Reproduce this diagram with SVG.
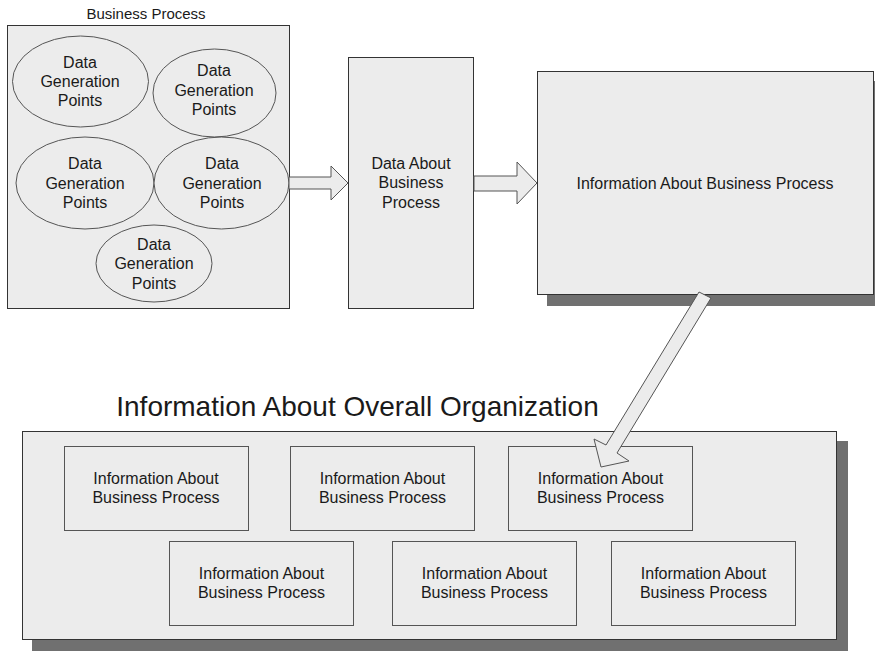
<svg xmlns="http://www.w3.org/2000/svg" width="875" height="651" viewBox="0 0 875 651">
<style>
  text { font-family: "Liberation Sans", Arial, sans-serif; fill: #1a1a1a; text-anchor: middle; }
  .t16 { font-size: 16px; }
  .box { fill: #ececec; stroke: #333; stroke-width: 1; }
  .inner { fill: #ececec; stroke: #555; stroke-width: 1; }
  .ell { fill: #ececec; stroke: #555; stroke-width: 1; }
  .shadow { fill: #707070; }
  .arrow { fill: #ececec; stroke: #555; stroke-width: 1; stroke-linejoin: miter; }
</style>
<rect width="875" height="651" fill="#ffffff"/>

<g id="business-process">
  <text x="146" y="19" style="font-size:15px">Business Process</text>
  <rect class="box" x="7.5" y="25.5" width="282" height="283"/>
  <g id="dgp1">
    <ellipse class="ell" cx="80.5" cy="81.5" rx="68" ry="45.5"/>
    <text class="t16" x="80" y="68">Data</text>
    <text class="t16" x="80" y="87">Generation</text>
    <text class="t16" x="80" y="106">Points</text>
  </g>
  <g id="dgp2">
    <ellipse class="ell" cx="214.5" cy="93" rx="61.5" ry="44"/>
    <text class="t16" x="214" y="76">Data</text>
    <text class="t16" x="214" y="95.5">Generation</text>
    <text class="t16" x="214" y="115">Points</text>
  </g>
  <g id="dgp3">
    <ellipse class="ell" cx="85" cy="183" rx="69" ry="46"/>
    <text class="t16" x="85" y="169">Data</text>
    <text class="t16" x="85" y="188.5">Generation</text>
    <text class="t16" x="85" y="208">Points</text>
  </g>
  <g id="dgp4">
    <ellipse class="ell" cx="221.5" cy="183" rx="67.5" ry="46"/>
    <text class="t16" x="222" y="169">Data</text>
    <text class="t16" x="222" y="188.5">Generation</text>
    <text class="t16" x="222" y="208">Points</text>
  </g>
  <g id="dgp5">
    <ellipse class="ell" cx="154" cy="263.5" rx="58" ry="38.5"/>
    <text class="t16" x="154" y="250">Data</text>
    <text class="t16" x="154" y="269">Generation</text>
    <text class="t16" x="154" y="288.5">Points</text>
  </g>
</g>

<g id="data-about">
  <rect class="box" x="348.5" y="57.5" width="125" height="251"/>
  <text class="t16" x="411" y="168.5">Data About</text>
  <text class="t16" x="411" y="188">Business</text>
  <text class="t16" x="411" y="207.5">Process</text>
</g>

<g id="info-bp">
  <rect class="shadow" x="547" y="81" width="328" height="225"/>
  <rect class="box" x="537.5" y="71.5" width="336" height="223"/>
  <text class="t16" x="705" y="189">Information About Business Process</text>
</g>

<g id="org">
  <text x="357.5" y="416" style="font-size:28px">Information About Overall Organization</text>
  <rect class="shadow" x="32" y="441" width="816" height="210"/>
  <rect class="box" x="22.5" y="431.5" width="814" height="208"/>
  <g id="ibp1">
    <rect class="inner" x="64.5" y="446.5" width="184" height="84"/>
    <text class="t16" x="156" y="484">Information About</text>
    <text class="t16" x="156" y="503">Business Process</text>
  </g>
  <g id="ibp2">
    <rect class="inner" x="290.5" y="446.5" width="184" height="84"/>
    <text class="t16" x="382.5" y="484">Information About</text>
    <text class="t16" x="382.5" y="503">Business Process</text>
  </g>
  <g id="ibp3">
    <rect class="inner" x="508.5" y="446.5" width="184" height="84"/>
    <text class="t16" x="600.5" y="484">Information About</text>
    <text class="t16" x="600.5" y="503">Business Process</text>
  </g>
  <g id="ibp4">
    <rect class="inner" x="169.5" y="541.5" width="184" height="84"/>
    <text class="t16" x="261.5" y="579">Information About</text>
    <text class="t16" x="261.5" y="598">Business Process</text>
  </g>
  <g id="ibp5">
    <rect class="inner" x="392.5" y="541.5" width="184" height="84"/>
    <text class="t16" x="484.5" y="579">Information About</text>
    <text class="t16" x="484.5" y="598">Business Process</text>
  </g>
  <g id="ibp6">
    <rect class="inner" x="611.5" y="541.5" width="184" height="84"/>
    <text class="t16" x="703.5" y="579">Information About</text>
    <text class="t16" x="703.5" y="598">Business Process</text>
  </g>
</g>

<g id="connectors">
  <polygon class="arrow" points="289,177 331,177 331,166 348,183 331,200 331,189 289,189"/>
  <polygon class="arrow" points="474,176 517,176 517,162 537,183 517,204 517,191 474,191"/>
  <polygon class="arrow" points="699,292 711,298 617,453 629,461 601,467 594,439 606,445"/>
</g>
</svg>
